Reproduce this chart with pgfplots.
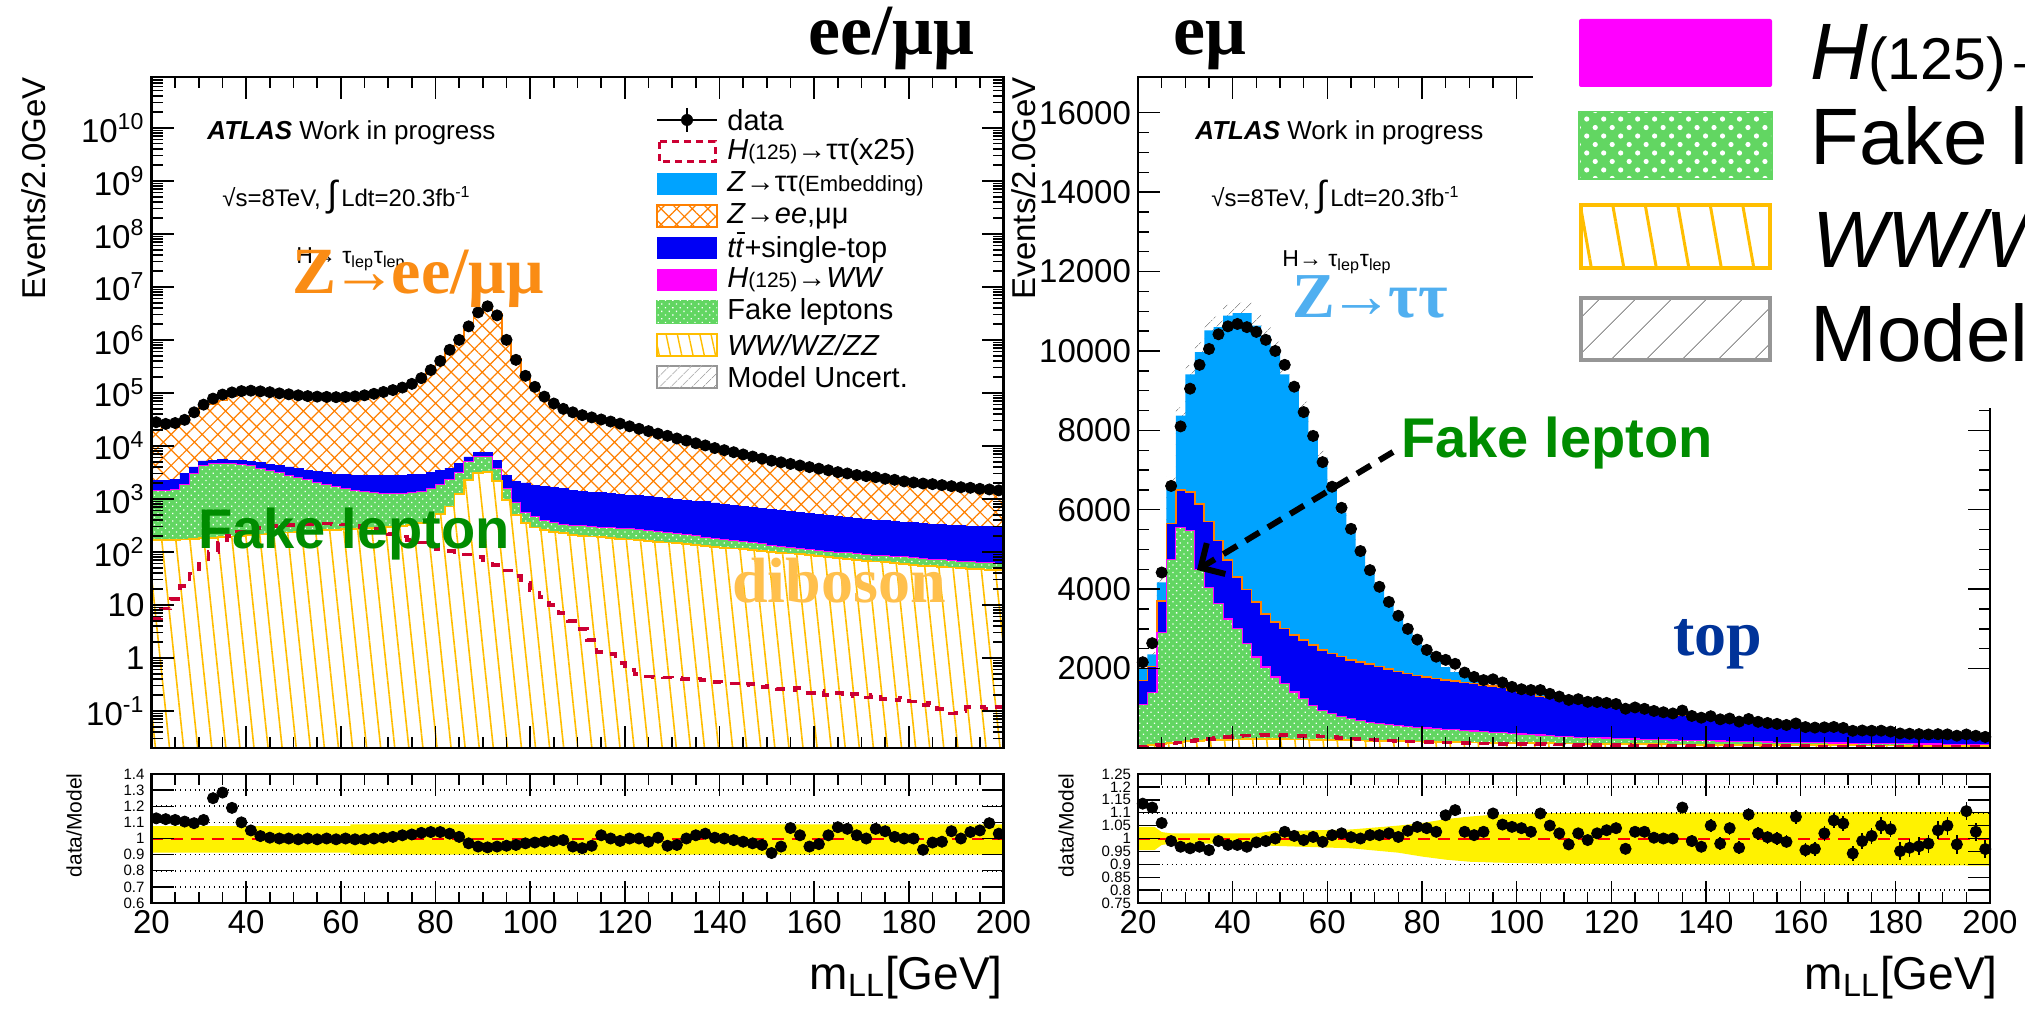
\documentclass[border=0pt]{standalone}
\usepackage{fontspec}
\setmainfont{Liberation Sans}
\newfontfamily\rmb{Liberation Serif}
\usepackage{pgfplots}
\pgfplotsset{compat=1.18}
\usepackage{pgfplotstable}
\usetikzlibrary{patterns,patterns.meta,arrows.meta}

\definecolor{zll}{RGB}{255,128,0}
\definecolor{ztt}{RGB}{0,163,255}
\definecolor{ttb}{RGB}{0,0,245}
\definecolor{fake}{RGB}{98,214,98}
\definecolor{dib}{RGB}{255,190,0}
\definecolor{htt}{RGB}{204,0,51}
\definecolor{hww}{RGB}{255,0,255}
\definecolor{aor}{RGB}{250,140,20}
\definecolor{agr}{RGB}{0,140,0}
\definecolor{alb}{RGB}{80,175,240}
\definecolor{adb}{RGB}{255,192,77}
\definecolor{atp}{RGB}{0,51,153}
\definecolor{unc}{RGB}{150,150,150}
\newcommand{\fs}[1]{\fontsize{#1}{#1}\selectfont}

% ee/mumu channel: lo c data tot(Zll top) top fake dib htt ratio
\pgfplotstableread{
lo c data tot top fake dib htt ratio
20 21 28000 24900 2200 1450 170 5.5 1.125
22 23 26000 23200 2200 1450 170 8.5 1.12
24 25 27000 24200 2300 1500 170 13 1.115
26 27 31000 28100 3000 1900 172 23 1.105
28 29 43000 39300 4000 3000 176 39 1.095
30 31 60000 53800 5200 4300 180 60 1.115
32 33 78000 62400 5400 4650 185 100 1.25
34 35 93000 72400 5500 4700 190 150 1.285
36 37 102000 85700 5400 4650 196 200 1.19
38 39 108000 98200 5300 4500 202 240 1.10
40 41 110000 104800 5100 4200 208 265 1.05
42 43 107000 105400 4800 3800 214 285 1.015
44 45 103000 102500 4500 3450 220 300 1.005
46 47 98000 98000 4300 3100 226 310 1.0
48 49 94000 94000 4000 2800 232 320 1.0
50 51 90000 90500 3750 2550 238 330 0.995
52 53 87000 87000 3500 2300 244 340 1.0
54 55 85000 85400 3300 2050 250 345 0.995
56 57 84000 84000 3100 1850 256 345 1.0
58 59 83000 83400 2950 1680 262 340 0.995
60 61 84000 84000 2850 1550 268 330 1.0
62 63 86000 86400 2800 1450 274 315 0.995
64 65 90000 90500 2780 1370 280 295 0.995
66 67 96000 96000 2760 1300 286 270 1.0
68 69 104000 103500 2750 1260 293 245 1.005
70 71 113000 111900 2760 1250 300 220 1.01
72 73 126000 123500 2780 1260 310 195 1.02
74 75 148000 144400 2850 1300 325 170 1.025
76 77 190000 183600 2950 1400 350 150 1.035
78 79 270000 259600 3150 1600 400 130 1.04
80 81 400000 384600 3400 1900 520 115 1.04
82 83 650000 631000 3800 2300 720 105 1.03
84 85 1000000 990000 4700 3200 1250 100 1.01
86 87 1800000 1856000 6200 5000 2300 90 0.97
88 89 3300000 3474000 7500 6400 3100 80 0.95
90 91 4300000 4550000 7500 6400 3200 70 0.945
92 93 2900000 3053000 5400 3700 2200 57 0.95
94 95 1000000 1047000 2800 1560 950 45 0.955
96 97 420000 437500 2100 870 500 35 0.96
98 99 210000 216500 2000 560 350 26 0.97
100 101 130000 133300 1800 460 290 19 0.975
102 103 85000 86700 1700 400 260 14 0.98
104 105 63000 64000 1650 360 240 10 0.985
106 107 50000 50500 1550 330 225 7 0.99
108 109 43000 45300 1450 320 210 5 0.95
110 111 38000 40400 1380 315 200 3.5 0.94
112 113 34500 36100 1340 305 195 2.2 0.955
114 115 31500 30900 1300 295 190 1.3 1.02
116 117 28800 28800 1260 285 185 1.2 1.0
118 119 26300 26700 1220 278 178 0.8 0.985
120 121 23400 23400 1180 272 172 0.6 1.0
122 123 21000 21000 1140 265 165 0.5 1.0
124 125 19000 19400 1100 255 160 0.45 0.98
126 127 17000 16900 1060 245 155 0.44 1.005
128 129 15500 16200 1020 235 150 0.43 0.955
130 131 13800 14400 980 222 145 0.42 0.96
132 133 12600 12600 940 210 140 0.40 1.0
134 135 11200 11000 910 200 135 0.41 1.02
136 137 10200 9900 880 190 128 0.38 1.03
138 139 9100 9050 840 182 124 0.35 1.005
140 141 8300 8300 800 174 120 0.36 1.0
142 143 7600 7680 760 166 116 0.33 0.99
144 145 6900 7040 720 158 112 0.30 0.98
146 147 6300 6500 690 150 108 0.32 0.97
148 149 5750 5990 660 142 104 0.28 0.96
150 151 5250 5770 630 134 100 0.30 0.91
152 153 4900 5160 600 128 96 0.26 0.95
154 155 4570 4290 575 122 93 0.25 1.065
156 157 4270 4190 550 116 90 0.27 1.02
158 159 3980 4190 525 111 86 0.22 0.95
160 161 3720 3850 500 106 83 0.24 0.965
162 163 3470 3400 480 102 80 0.20 1.02
164 165 3200 2990 460 99 77 0.22 1.07
166 167 3020 2850 445 96 74 0.19 1.06
168 169 2820 2760 430 93 71 0.21 1.02
170 171 2690 2690 415 90 68 0.18 1.0
172 173 2570 2420 400 87 66 0.20 1.06
174 175 2400 2300 388 85 64 0.17 1.045
176 177 2290 2270 376 83 61 0.16 1.01
178 179 2140 2140 365 81 59 0.18 1.0
180 181 2040 2040 355 78 57 0.15 1.0
182 183 1950 2100 345 76 55 0.13 0.93
184 185 1900 1950 336 73 54 0.14 0.975
186 187 1820 1860 327 71 52 0.11 0.98
188 189 1740 1670 318 69 51 0.09 1.045
190 191 1660 1660 310 67 50 0.10 1.0
192 193 1620 1560 305 65 48 0.12 1.04
194 195 1550 1480 300 63 47 0.12 1.05
196 197 1510 1380 297 62 46 0.11 1.095
198 199 1450 1410 295 60 45 0.12 1.03
200 201 1450 1410 295 60 45 0.12 1.03
}\LT

% e-mu channel: lo c data tot(Ztautau top) top fake dib htt uhi ratio err
\pgfplotstableread{
lo c data tot top fake dib htt uhi ratio err
20 21 2160 2000 1700 1100 50 40 2050 1.135 0.008
22 23 2640 2357 2050 1400 70 55 2416 1.12 0.008
24 25 4420 4170 3700 2900 100 80 4274 1.06 0.008
26 27 6600 6670 5650 4750 130 110 6837 0.99 0.008
28 29 8100 8370 6500 5550 150 140 8579 0.968 0.008
30 31 9050 9410 6450 5480 170 170 9645 0.962 0.008
32 33 9650 9970 6150 4500 185 200 10219 0.968 0.008
34 35 10050 10520 5700 4050 195 230 10783 0.955 0.008
36 37 10420 10600 5230 3630 205 255 10865 0.99 0.008
38 39 10620 10890 4730 3250 210 280 11162 0.975 0.008
40 41 10680 10950 4300 3000 215 300 11224 0.975 0.008
42 43 10600 10950 3990 2630 218 310 11224 0.968 0.008
44 45 10480 10640 3680 2290 220 320 10906 0.985 0.008
46 47 10280 10380 3380 2040 220 325 10640 0.99 0.008
48 49 10000 10000 3180 1790 220 325 10250 1.0 0.008
50 51 9650 9410 3010 1620 218 320 9645 1.026 0.008
52 53 9100 9010 2840 1410 215 315 9235 1.01 0.008
54 55 8460 8510 2720 1240 212 305 8723 0.994 0.008
56 57 7860 7810 2590 1075 208 295 8005 1.006 0.008
58 59 7200 7300 2470 950 204 285 7483 0.987 0.008
60 61 6580 6500 2380 865 200 270 6663 1.013 0.008
62 63 6050 5930 2300 800 196 255 6078 1.02 0.008
64 65 5520 5490 2220 740 192 240 5627 1.005 0.008
66 67 4960 4960 2160 690 188 225 5084 1.0 0.008
68 69 4480 4420 2110 650 184 210 4531 1.013 0.008
70 71 4060 4010 2050 620 180 195 4110 1.013 0.008
72 73 3680 3610 1990 590 176 185 3700 1.02 0.008
74 75 3330 3310 1930 565 172 175 3393 1.006 0.008
76 77 3000 2910 1880 545 168 168 2983 1.03 0.008
78 79 2730 2610 1830 525 164 160 2675 1.045 0.008
80 81 2470 2375 1790 505 160 152 2434 1.04 0.012
82 83 2300 2240 1750 490 156 146 2296 1.026 0.012
84 85 2220 2040 1710 475 152 140 2091 1.09 0.012
86 87 2120 1910 1680 460 148 134 1958 1.11 0.012
88 89 1900 1850 1650 445 144 128 1896 1.026 0.012
90 91 1790 1770 1620 430 140 122 1814 1.013 0.015
92 93 1710 1670 1590 415 137 117 1712 1.026 0.015
94 95 1730 1580 1560 400 134 112 1620 1.097 0.015
96 97 1650 1565 1530 385 131 108 1604 1.054 0.015
98 99 1540 1475 1450 370 128 104 1512 1.045 0.015
100 101 1480 1425 1400 355 125 100 1461 1.04 0.015
102 103 1460 1423 1390 340 122 97 1459 1.026 0.015
104 105 1459 1330 1297 325 119 94 1363 1.097 0.015
106 107 1365 1300 1268 310 116 91 1333 1.05 0.015
108 109 1295 1270 1238 295 113 88 1302 1.02 0.015
110 111 1211 1240 1209 285 111 85 1271 0.977 0.015
112 113 1229 1205 1175 274 109 82 1235 1.02 0.018
114 115 1163 1170 1141 266 107 79 1199 0.994 0.018
116 117 1158 1135 1107 258 105 77 1163 1.02 0.018
118 119 1135 1100 1073 250 103 75 1128 1.032 0.018
120 121 1108 1065 1038 243 101 72 1092 1.04 0.02
122 123 989 1030 1004 236 99 70 1056 0.96 0.02
124 125 1021 995 970 229 97 68 1020 1.026 0.02
126 127 987 962 938 222 95 66 986 1.026 0.02
128 129 933 930 907 215 93 64 953 1.003 0.02
130 131 900 900 878 209 91 62 923 1.0 0.022
132 133 870 870 848 203 89 60 892 1.0 0.022
134 135 943 842 821 197 87 58 863 1.12 0.022
136 137 807 815 795 191 85 57 835 0.99 0.022
138 139 763 788 768 185 83 55 808 0.968 0.022
140 141 800 762 743 180 81 54 781 1.05 0.025
142 143 722 737 719 175 80 52 755 0.98 0.025
144 145 742 713 695 170 79 51 731 1.04 0.025
146 147 665 690 673 165 78 50 707 0.964 0.025
148 149 730 668 651 160 77 49 685 1.093 0.025
150 151 660 647 631 156 76 48 663 1.02 0.025
152 153 630 627 611 152 75 47 643 1.005 0.025
154 155 607 607 592 148 74 46 622 1.0 0.025
156 157 580 588 573 144 73 45 603 0.987 0.025
158 159 618 570 556 140 72 44 584 1.084 0.028
160 161 527 552 538 136 71 43 566 0.955 0.028
162 163 514 535 522 133 70 42 548 0.96 0.028
164 165 520 510 497 130 69 41 523 1.02 0.03
166 167 530 495 483 127 68 40 507 1.07 0.03
168 169 506 478 466 124 67 39 490 1.058 0.03
170 171 433 460 449 121 66 38 472 0.942 0.03
172 173 441 445 434 118 65 37 456 0.99 0.032
174 175 434 430 419 115 64 36 441 1.01 0.032
176 177 436 415 405 112 63 36 425 1.05 0.032
178 179 414 400 390 110 62 35 410 1.036 0.032
180 181 366 385 375 108 61 34 395 0.951 0.034
182 183 359 372 363 105 60 34 381 0.964 0.034
184 185 349 360 351 103 60 33 369 0.97 0.034
186 187 341 348 339 101 59 32 357 0.98 0.035
188 189 348 337 329 99 58 32 345 1.032 0.035
190 191 343 327 319 97 58 31 335 1.05 0.035
192 193 310 317 309 95 57 31 325 0.977 0.036
194 195 341 308 300 93 57 30 316 1.106 0.036
196 197 308 300 293 91 56 30 308 1.026 0.036
198 199 280 292 285 90 55 29 299 0.959 0.036
200 201 280 292 285 90 55 29 299 0.959 0.036
}\RT

\tikzset{
  zllfill/.style={fill=white, postaction={pattern={Hatch[angle=45,distance=5.5pt,line width=0.6pt]}, pattern color=zll}},
  fakefill/.style={fill=fake, postaction={pattern={Dots[distance=2.6pt,radius=0.45pt,angle=45]}, pattern color=white}},
  dibfill/.style={fill=white, postaction={pattern={Lines[angle=-84,distance=7pt,line width=0.8pt]}, pattern color=dib}},
  uncfill/.style={fill=white, postaction={pattern={Lines[angle=45,distance=4pt,line width=0.4pt]}, pattern color=unc}},
  httline/.style={htt, line width=1.8pt, dash pattern=on 5pt off 4.5pt},
}
\pgfplotsset{
  rootax/.style={
    scale only axis, width=426pt, xmin=20, xmax=200,
    axis line style={line width=1.1pt},
    tick style={black, line width=0.7pt},
    tick align=inside, major tick length=11pt, minor tick length=5.5pt,
    xtick={20,40,...,200}, minor x tick num=3,
    axis on top,
    /pgf/number format/assume math mode=true,
    tick label style={font=\fs{16.5}},
  },
}

\begin{document}
\begin{tikzpicture}
\useasboundingbox (0pt,0pt) rectangle (1012.5pt,-505pt);

% ---------------- left main (ee/mumu) ----------------
\begin{axis}[rootax, at={(75.75pt,-38.5pt)}, anchor=north west, height=335.5pt,
  ymode=log, log origin y=infty, ymin=0.02, ymax=9.1e10, xticklabels={},
  ytick={0.1,1,10,100,1e3,1e4,1e5,1e6,1e7,1e8,1e9,1e10},
  yticklabels={10\textsuperscript{-1},1,10,10\textsuperscript{2},10\textsuperscript{3},10\textsuperscript{4},10\textsuperscript{5},10\textsuperscript{6},10\textsuperscript{7},10\textsuperscript{8},10\textsuperscript{9},10\textsuperscript{10}},
  minor ytick={0.03,0.04,0.05,0.06,0.07,0.08,0.09,0.2,0.3,0.4,0.5,0.6,0.7,0.8,0.9,2,3,4,5,6,7,8,9,20,30,40,50,60,70,80,90,200,300,400,500,600,700,800,900,2000,3000,4000,5000,6000,7000,8000,9000,2e4,3e4,4e4,5e4,6e4,7e4,8e4,9e4,2e5,3e5,4e5,5e5,6e5,7e5,8e5,9e5,2e6,3e6,4e6,5e6,6e6,7e6,8e6,9e6,2e7,3e7,4e7,5e7,6e7,7e7,8e7,9e7,2e8,3e8,4e8,5e8,6e8,7e8,8e8,9e8,2e9,3e9,4e9,5e9,6e9,7e9,8e9,9e9,2e10,3e10,4e10,5e10,6e10,7e10,8e10,9e10}]
\addplot[const plot, zllfill, draw=zll, line width=0.8pt] table[x=lo,y=tot]{\LT} \closedcycle;
\addplot[const plot, fill=ttb, draw=ttb] table[x=lo,y=top]{\LT} \closedcycle;
\addplot[const plot, fakefill, draw=hww, line width=0.5pt] table[x=lo,y=fake]{\LT} \closedcycle;
\addplot[const plot, dibfill, draw=dib, line width=0.9pt] table[x=lo,y=dib]{\LT} \closedcycle;
\addplot[const plot, httline] table[x=lo,y=htt]{\LT};
\addplot[only marks, mark=*, mark size=2.8pt, black, skip coords between index={90}{91}] table[x=c,y=data]{\LT};
\end{axis}

% ---------------- left ratio ----------------
\begin{axis}[rootax, at={(75.75pt,-387pt)}, anchor=north west, height=64.5pt,
  ymin=0.6, ymax=1.4, ytick={0.6,0.7,0.8,0.9,1,1.1,1.2,1.3,1.4},
  yticklabel style={font=\fs{7.5}},
  extra y ticks={0.7,0.8,0.9,1.1,1.2,1.3}, extra y tick labels={},
  extra y tick style={grid=major, major grid style={black, dotted, line width=0.8pt}}]
\addplot[fill=yellow, draw=none] coordinates {(20,0.913) (62,0.913) (62,0.90) (200,0.90) (200,1.087) (62,1.087) (62,1.077) (20,1.077)} --cycle;
\addplot[red, line width=1pt, dash pattern=on 6pt off 4pt] coordinates {(20,1) (200,1)};
\addplot[only marks, mark=*, mark size=2.8pt, black, skip coords between index={90}{91}] table[x=c,y=ratio]{\LT};
\end{axis}

% ---------------- right main (e mu) ----------------
\begin{axis}[rootax, at={(569pt,-38.5pt)}, anchor=north west, height=335.5pt,
  ymin=0, ymax=16900, xticklabels={},
  ytick={2000,4000,6000,8000,10000,12000,14000,16000}, minor y tick num=3,
  scaled y ticks=false, yticklabel style={/pgf/number format/1000 sep={}}]
\addplot[const plot, uncfill, draw=none] table[x=lo,y=uhi]{\RT} \closedcycle;
\addplot[const plot, fill=ztt, draw=none] table[x=lo,y=tot]{\RT} \closedcycle;
\addplot[const plot, fill=ttb, draw=zll, line width=0.8pt] table[x=lo,y=top]{\RT} \closedcycle;
\addplot[const plot, fakefill, draw=hww, line width=0.6pt] table[x=lo,y=fake]{\RT} \closedcycle;
\addplot[const plot, dibfill, draw=dib, line width=0.9pt] table[x=lo,y=dib]{\RT} \closedcycle;
\addplot[const plot, httline] table[x=lo,y=htt]{\RT};
\addplot[only marks, mark=*, mark size=2.8pt, black, skip coords between index={90}{91}] table[x=c,y=data]{\RT};
\end{axis}

% ---------------- right ratio ----------------
\begin{axis}[rootax, at={(569pt,-387pt)}, anchor=north west, height=64.5pt,
  ymin=0.75, ymax=1.25, ytick={0.75,0.8,0.85,0.9,0.95,1,1.05,1.1,1.15,1.2,1.25},
  yticklabel style={font=\fs{7.5}},
  extra y ticks={0.8,0.9,1.1,1.2}, extra y tick labels={},
  extra y tick style={grid=major, major grid style={black, dotted, line width=0.8pt}}]
\addplot[fill=yellow, draw=none] coordinates {(20,1.045) (23.5,1.045) (25,1.025) (27,1.02) (45,1.02) (48,1.028) (65,1.035) (75,1.05) (80,1.06) (85,1.075) (90,1.085) (95,1.092) (105,1.098) (130,1.1) (200,1.103) (200,0.895) (130,0.9) (105,0.903) (95,0.907) (90,0.91) (85,0.918) (80,0.93) (75,0.945) (65,0.962) (48,0.972) (45,0.98) (27,0.98) (25,0.975) (23.5,0.955) (20,0.955)} --cycle;
\addplot[red, line width=1pt, dash pattern=on 6pt off 4pt] coordinates {(20,1) (200,1)};
\addplot[only marks, mark=*, mark size=2.8pt, black, skip coords between index={90}{91},
  error bars/.cd, y dir=both, y explicit, error mark=none, error bar style={black, line width=0.8pt}]
  table[x=c,y=ratio,y error=err]{\RT};
\end{axis}

% ---------------- text and overlays (pixel coordinates) ----------------
\begin{scope}[x=0.5pt,y=-0.5pt]
\clip (0,0) rectangle (2025,1010);
% axis titles
\node[rotate=90, anchor=east, inner sep=0, font=\fs{16.5}] at (34,77) {Events/2.0GeV};
\node[rotate=90, anchor=east, inner sep=0, font=\fs{16.5}] at (1024,77) {Events/2.0GeV};
\node[rotate=90, anchor=east, inner sep=0, font=\fs{10.5}] at (74,773) {data/Model};
\node[rotate=90, anchor=east, inner sep=0, font=\fs{10.5}] at (1066,773) {data/Model};
\node[anchor=base east, inner sep=0, font=\fs{23}] at (1003,989) {m\textsubscript{LL}[GeV]};
\node[anchor=base east, inner sep=0, font=\fs{23}] at (1998,989) {m\textsubscript{LL}[GeV]};

% ATLAS labels
\node[anchor=west, inner sep=0, font=\fs{13}] at (207,133) {\textbf{\textit{ATLAS}} Work in progress};
\node[anchor=west, inner sep=0, font=\fs{13}] at (1195,133) {\textbf{\textit{ATLAS}} Work in progress};
\node[anchor=west, inner sep=0, font=\fs{12}] at (222,197) {√s=8TeV, {\fs{18}∫}\,Ldt=20.3fb\textsuperscript{-1}};
\node[anchor=west, inner sep=0, font=\fs{12}] at (1211,197) {√s=8TeV, {\fs{18}∫}\,Ldt=20.3fb\textsuperscript{-1}};
\node[anchor=west, inner sep=0, font=\fs{11.5}] at (296,259) {H→ τ\textsubscript{lep}τ\textsubscript{lep}};
\node[anchor=west, inner sep=0, font=\fs{11.5}] at (1282,262) {H→ τ\textsubscript{lep}τ\textsubscript{lep}};

% channel titles and annotations
\node[anchor=base west, inner sep=0, font=\rmb\bfseries\fs{36}] at (808,55) {ee/μμ};
\node[anchor=base west, inner sep=0, font=\rmb\bfseries\fs{36}] at (1173,55) {eμ};
\node[anchor=base west, inner sep=0, text=aor, font=\rmb\bfseries\fs{33}] at (292,294) {Z\kern-0.08em→\kern-0.08em ee/μμ};
\node[anchor=base west, inner sep=0, text=agr, font=\bfseries\fs{28}] at (198,549) {Fake lepton};
\node[anchor=base west, inner sep=0, text=adb, font=\rmb\bfseries\fs{32}] at (732,603) {diboson};
\node[anchor=base west, inner sep=0, text=alb, font=\rmb\bfseries\fs{32}] at (1292,318) {Z\kern-0.08em→\kern-0.08em ττ};
\node[anchor=base west, inner sep=0, text=agr, font=\bfseries\fs{28}] at (1401,458) {Fake lepton};
\node[anchor=base west, inner sep=0, text=atp, font=\rmb\bfseries\fs{32}] at (1673,655) {top};
\draw[line width=3pt, dash pattern=on 8pt off 5pt, -{Straight Barb[length=9pt,width=18pt,line width=3pt]}] (1393,452) -- (1197,570);

% left legend
\draw[line width=1pt] (657,120) -- (717,120);
\draw[line width=1pt] (687,108) -- (687,132);
\fill (687,120) circle[radius=3pt];
\draw[htt, line width=1.5pt, dash pattern=on 3.5pt off 2.5pt] (659,142) rectangle (715,162);
\fill[ztt] (657,173) rectangle (717,195);
\draw[zll, line width=1pt, zllfill] (657,205) rectangle (717,227);
\fill[ttb] (657,237) rectangle (717,259);
\fill[hww] (657,269) rectangle (717,291);
\draw[fake, line width=1pt, fakefill] (657,301) rectangle (717,323);
\draw[dib, line width=1pt, fill=white, postaction={pattern={Lines[angle=-78,distance=5.5pt,line width=0.7pt]}, pattern color=dib}] (657,334) rectangle (717,356);
\draw[unc, line width=1pt, uncfill] (657,366) rectangle (717,388);
\begin{scope}[every node/.style={anchor=west, inner sep=0, font=\fs{14.5}}]
\node at (727,120) {data};
\node at (727,152) {\textit{H}{\fs{10.5}(125)}→ττ(x25)};
\node at (727,184) {\textit{Z}→ττ{\fs{11}(Embedding)}};
\node at (727,216) {\textit{Z}→\textit{ee},μμ};
\node at (727,248) {\textit{t\rlap{\raisebox{0.8em}{\hspace{0.04em}\rule{0.3em}{0.07em}}}t}+single-top};
\node at (727,280) {\textit{H}{\fs{10.5}(125)}→\textit{WW}};
\node at (727,312) {Fake leptons};
\node at (727,345) {\textit{WW/WZ/ZZ}};
\node at (727,377) {Model Uncert.};
\end{scope}

% big legend pasted on the upper right
\fill[white] (1533,-5) rectangle (2030,408);
\fill[hww, rounded corners=1pt] (1579,19) rectangle (1772,87);
\draw[fake, line width=2pt, fill=fake, postaction={pattern={Dots[distance=6pt,radius=1.3pt,angle=45]}, pattern color=white}] (1580,113) rectangle (1771,178);
\draw[dib, line width=2.2pt, fill=white, postaction={pattern={Lines[angle=-80,distance=16pt,line width=1.5pt]}, pattern color=dib}] (1581,205) rectangle (1770,268);
\draw[unc, line width=2.2pt, fill=white, postaction={pattern={Lines[angle=45,distance=13pt,line width=0.5pt]}, pattern color=unc}] (1581,298) rectangle (1770,360);
\node[anchor=base west, inner sep=0, font=\fs{40}] at (1810,80) {\textit{H}{\fs{29.5}(125)}\kern-0.1em→\textit{WW}};
\node[anchor=base west, inner sep=0, font=\fs{40}] at (1810,165) {Fake leptons};
\node[anchor=base west, inner sep=0, font=\fs{40}] at (1812,268) {\textit{WW/WZ/ZZ}};
\node[anchor=base west, inner sep=0, font=\fs{40}] at (1810,362) {Model Uncert.};
\end{scope}
\end{tikzpicture}
\end{document}
